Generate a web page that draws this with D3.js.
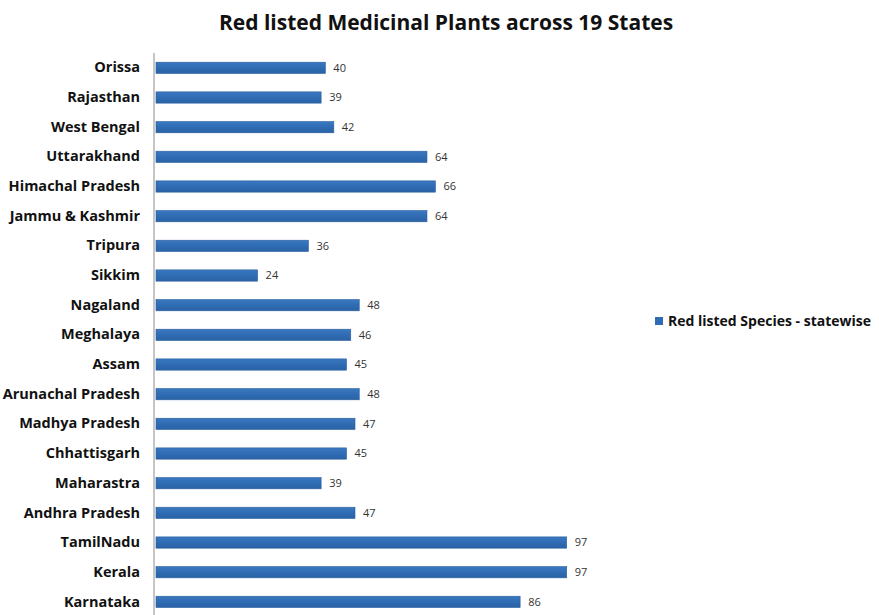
<!DOCTYPE html>
<html><head><meta charset="utf-8">
<script src="https://cdn.jsdelivr.net/npm/d3@7"></script>
<style>
body{margin:0;background:#fff;}
svg{display:block;}
</style></head>
<body>
<svg id="chart" width="879" height="615"></svg>
<script>
const categories = ["Orissa","Rajasthan","West Bengal","Uttarakhand","Himachal Pradesh","Jammu & Kashmir","Tripura","Sikkim","Nagaland","Meghalaya","Assam","Arunachal Pradesh","Madhya Pradesh","Chhattisgarh","Maharastra","Andhra Pradesh","TamilNadu","Kerala","Karnataka"];
const values = [40,39,42,64,66,64,36,24,48,46,45,48,47,45,39,47,97,97,86];
const seriesName = "Red listed Species - statewise";
const title = "Red listed Medicinal Plants across 19 States";

const svg = d3.select("#chart");
const font = "'Open Sans', 'Liberation Sans', sans-serif";
const barColor = "#2f6cb3";

const x = d3.scaleLinear().domain([0, 97]).range([156, 566.7]);
const y = d3.scaleBand().domain(categories).range([53, 616.7]).paddingInner(0.62).paddingOuter(0.31);

const defs = svg.append("defs");
const grad = defs.append("linearGradient").attr("id","bg").attr("x1",0).attr("y1",0).attr("x2",0).attr("y2",1);
grad.append("stop").attr("offset","0%").attr("stop-color","#3a78c0");
grad.append("stop").attr("offset","50%").attr("stop-color","#2f6cb3");
grad.append("stop").attr("offset","100%").attr("stop-color","#2a62a6");

svg.append("text").attr("x", 446).attr("y", 30).attr("text-anchor","middle")
  .attr("font-family", font).attr("font-weight","bold").attr("font-size", 21)
  .attr("fill","#111").text(title);

svg.append("g").selectAll("rect").data(categories).join("rect")
  .attr("x", x(0)).attr("y", d => y(d))
  .attr("width", (d,i) => x(values[i]) - x(0)).attr("height", y.bandwidth())
  .attr("fill", "url(#bg)").attr("stroke","#2a5f9e").attr("stroke-width",0.6);

svg.append("g").selectAll("text").data(categories).join("text")
  .attr("x", (d,i) => x(values[i]) + 8).attr("y", d => y(d) + y.bandwidth()/2)
  .attr("dy","0.35em").attr("font-family", font).attr("font-size", 11).attr("fill","#333")
  .text((d,i) => values[i]);

const yAxis = svg.append("g").attr("transform","translate(154,0)")
  .call(d3.axisLeft(y).tickSize(0).tickPadding(14));
yAxis.select(".domain").attr("stroke","#8c8c8c").attr("d","M0,53V615");
yAxis.selectAll("text").attr("font-family", font).attr("font-weight","bold")
  .attr("font-size", 14.5).attr("fill","#111");

const lg = svg.append("g").attr("transform","translate(655,317)");
lg.append("rect").attr("width",8).attr("height",8).attr("fill",barColor);
lg.append("text").attr("x",13).attr("y",4).attr("dy","0.35em")
  .attr("font-family", font).attr("font-weight","bold").attr("font-size", 14)
  .attr("fill","#111").text(seriesName);
</script>
</body></html>
